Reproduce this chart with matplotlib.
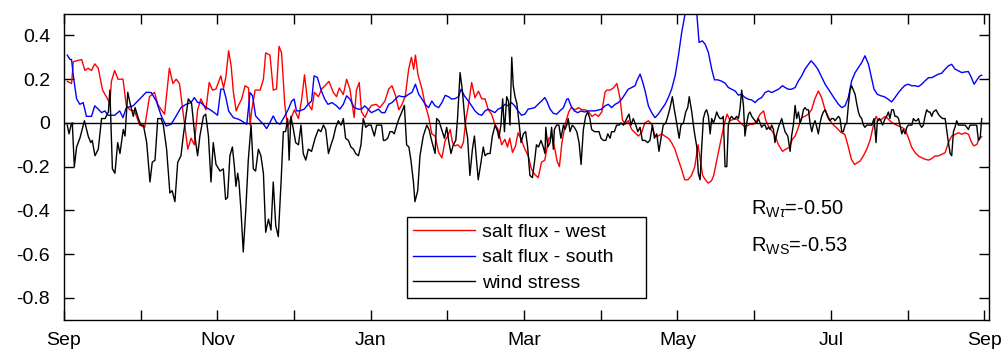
import matplotlib.pyplot as plt
from matplotlib.lines import Line2D
import numpy as np

plt.rcParams['font.family'] = ['Liberation Sans', 'DejaVu Sans']
plt.rcParams['mathtext.fontset'] = 'custom'
plt.rcParams['mathtext.rm'] = 'Liberation Sans'
plt.rcParams['mathtext.it'] = 'Liberation Sans:italic'
plt.rcParams['axes.unicode_minus'] = False

# days counted from 1 Sep
west_days = [1.3, 3.0, 3.7, 7.0, 8.3, 9.6, 10.9, 12.2, 13.6, 15.3, 16.8, 18.2, 18.8, 20.1, 21.4, 23.4, 24.7, 26.1,
             28.0, 30.0, 32.0, 33.9, 35.9, 37.2, 38.6, 39.9, 41.8, 43.2, 44.5, 45.8, 47.1, 49.1, 50.4, 51.7, 53.0,
             54.3, 56.3, 57.6, 58.9, 60.3, 62.2, 63.3, 64.2, 65.3, 66.3, 67.2, 68.3, 69.2, 70.5, 71.8, 73.2, 73.8,
             74.5, 75.8, 77.8, 79.1, 80.0, 81.7, 83.0, 84.3, 85.3, 86.3, 87.6, 88.7, 90.0, 91.4, 93.0, 94.3, 95.4,
             96.7, 98.3, 99.3, 100.9, 102.2, 103.5, 105.1, 106.8, 108.1, 109.2, 110.8, 112.1, 113.4, 115.1, 116.0,
             117.1, 118.0, 119.4, 120.7, 122.0, 123.8, 125.3, 127.3, 128.8, 130.1, 131.5, 132.8, 134.1, 135.4,
             136.7, 137.8, 138.7, 139.4, 140.4, 142.0, 143.3, 144.6, 145.9, 147.2, 148.6, 149.9, 151.2, 152.2,
             153.2, 154.1, 155.1, 156.2, 157.5, 158.4, 159.4, 160.4, 161.7, 163.0, 164.4, 165.7, 167.0, 168.3,
             169.6, 170.9, 172.2, 173.6, 174.9, 175.9, 176.8, 177.9, 179.1, 180.1, 181.5, 182.8, 184.1, 185.4,
             186.7, 188.1, 189.4, 190.7, 192.3, 193.6, 194.7, 195.6, 196.5, 197.5, 198.9, 200.2, 201.2, 202.8,
             204.1, 205.4, 206.8, 208.1, 209.4, 210.7, 212.0, 213.3, 214.6, 215.3, 216.6, 217.9, 219.3, 220.6,
             221.5, 222.5, 223.8, 225.2, 226.5, 227.8, 229.1, 230.4, 231.8, 233.1, 234.4, 235.7, 237.0, 238.3,
             239.7, 241.0, 242.3, 243.6, 244.9, 246.2, 247.5, 248.9, 250.2, 251.5, 253.3, 254.4, 255.5, 256.8,
             257.7, 259.0, 260.3, 261.7, 263.0, 264.3, 265.6, 266.9, 268.2, 269.6, 270.9, 272.2, 273.5, 274.8,
             276.1, 277.5, 278.4, 279.4, 280.8, 282.1, 283.4, 285.0, 286.3, 287.6, 288.9, 290.0, 291.3, 292.6,
             293.9, 295.2, 296.5, 297.8, 299.2, 300.5, 301.8, 303.1, 304.4, 305.7, 307.1, 308.4, 309.7, 311.0,
             312.3, 313.6, 315.8, 317.1, 318.4, 319.7, 321.0, 322.1, 323.0, 324.3, 325.7, 327.0, 328.3, 329.6,
             331.0, 332.3, 333.6, 334.9, 336.3, 337.6, 338.9, 340.2, 341.5, 342.9, 344.2, 345.5, 346.8, 348.2,
             349.5, 350.8, 352.1, 353.5, 354.8, 356.1, 357.4, 358.8, 359.7, 360.8, 362.1, 363.1, 364.0]
west_vals = [0.19, 0.18, 0.28, 0.29, 0.24, 0.25, 0.24, 0.27, 0.25, 0.15, 0.12, 0.09, 0.19, 0.24, 0.20, 0.20, 0.08, 0.06,
             0.055, -0.01, -0.02, 0.12, 0.14, 0.085, 0.06, 0.04, 0.25, 0.18, 0.20, 0.18, 0.06, -0.12, -0.07, -0.10, 0.06,
             0.11, 0.06, 0.185, 0.15, 0.155, 0.215, 0.16, 0.21, 0.33, 0.26, 0.14, 0.055, 0.08, 0.11, 0.17, 0.16, -0.01,
             0.06, 0.15, 0.15, 0.20, 0.32, 0.31, 0.15, 0.155, 0.35, 0.32, 0.08, -0.015, 0.02, 0.06, 0.02, 0.11, 0.22,
             0.09, 0.06, 0.14, 0.12, 0.155, 0.17, 0.19, 0.14, 0.12, 0.16, 0.13, 0.20, 0.155, 0.025, 0.15,
             0.185, 0.05, 0.025, 0.06, 0.08, 0.085, 0.07, 0.10, 0.155, 0.17, 0.125, 0.06, 0.085, 0.125,
             0.245, 0.30, 0.245, 0.31, 0.22, 0.155, 0.08, 0.03, -0.05, -0.06, -0.135, -0.16, -0.08, -0.06,
             -0.03, -0.09, -0.105, -0.10, -0.115, -0.09, 0.015, 0.08, 0.185, 0.115, 0.145, 0.11, 0.11, 0.06,
             0.04, -0.006, -0.03, -0.10, -0.075, -0.11, -0.07, -0.135, -0.105, -0.045, -0.08, -0.12, -0.15, -0.21,
             -0.235, -0.25, -0.18, -0.17, -0.07, -0.06, -0.12, -0.175, -0.20, -0.09, 0.0, 0.05, 0.07, 0.06,
             0.07, 0.06, 0.06, 0.05, 0.03, 0.04, 0.03, 0.05, 0.14, 0.15, 0.15, 0.16, 0.18, 0.11,
             0.015, -0.006, 0.01, -0.03, -0.045, -0.06, -0.045, 0.0, 0.01, -0.006, -0.06, -0.06, -0.05, -0.06,
             -0.07, -0.09, -0.12, -0.166, -0.21, -0.26, -0.26, -0.24, -0.20, -0.10, -0.24, -0.26, -0.275, -0.265,
             -0.24, -0.166, -0.09, -0.014, 0.04, 0.01, 0.017, 0.017, 0.002, -0.014, -0.014, -0.006, -0.006, 0.01,
             0.04, 0.055, 0.01, -0.014, -0.037, -0.06, -0.10, -0.13, -0.12, -0.113, -0.075, -0.06, -0.02, 0.025,
             0.03, 0.04, 0.06, 0.109, 0.146, 0.116, 0.063, 0.03, 0.0, -0.014, -0.03, -0.045, -0.052, -0.105,
             -0.166, -0.19, -0.174, -0.15, -0.12, -0.08, -0.014, 0.03, 0.01, 0.017, 0.03, 0.017, 0.002, -0.006,
             -0.014, -0.02, -0.03, -0.067, -0.113, -0.136, -0.151, -0.159, -0.166, -0.17, -0.163, -0.151, -0.151, -0.143,
             -0.136, -0.09, -0.06, -0.052, -0.045, -0.052, -0.045, -0.052, -0.082, -0.105, -0.098, -0.067, -0.063]

south_days = [1.3, 2.4, 3.0, 3.7, 5.0, 6.3, 7.6, 8.9, 10.9, 12.2, 13.6, 14.9, 16.2, 17.5, 20.1, 22.1, 23.4, 24.7,
              27.4, 30.0, 32.6, 34.6, 36.6, 38.6, 40.5, 42.5, 44.5, 46.4, 48.4, 50.4, 51.7, 53.0, 54.3, 56.3, 57.6,
              59.6, 60.9, 62.2, 63.3, 64.2, 65.3, 67.2, 69.2, 70.5, 72.5, 73.8, 74.8, 76.0, 77.8, 79.1, 80.4, 81.7,
              83.0, 84.3, 85.7, 87.6, 89.0, 90.3, 91.3, 92.2, 93.5, 95.3, 96.8, 98.2, 99.2, 100.5, 102.1, 103.4,
              104.7, 106.3, 108.1, 109.4, 110.8, 112.1, 113.4, 115.1, 116.7, 118.0, 119.3, 120.6, 121.9, 123.4,
              124.7, 126.0, 127.3, 128.8, 130.1, 131.5, 132.8, 134.1, 135.4, 136.7, 138.0, 139.4, 140.7, 142.0,
              143.3, 144.6, 145.9, 147.2, 148.6, 149.9, 151.2, 152.5, 153.8, 155.1, 156.5, 157.5, 158.8, 160.4,
              161.7, 163.0, 164.4, 165.7, 167.0, 168.3, 169.6, 170.9, 172.2, 173.6, 174.9, 176.2, 177.5, 178.8,
              180.1, 181.5, 182.8, 184.1, 185.4, 186.7, 188.0, 189.4, 190.7, 191.5, 192.8, 194.1, 195.4, 196.7,
              198.1, 199.4, 200.0, 201.1, 202.4, 203.8, 205.1, 206.4, 208.0, 210.6, 213.3, 214.6, 215.9, 217.2,
              218.6, 219.9, 221.2, 222.5, 223.8, 225.2, 226.5, 227.2, 228.5, 229.4, 230.5, 231.8, 233.1, 234.4,
              235.7, 237.1, 238.4, 239.7, 241.0, 242.4, 243.7, 245.0, 246.3, 247.6, 249.0, 250.3, 251.0, 251.9,
              253.2, 254.3, 255.6, 256.9, 258.0, 259.3, 260.6, 262.2, 263.5, 264.8, 266.2, 267.5, 268.8, 270.1,
              271.5, 272.8, 274.1, 275.4, 276.7, 278.1, 279.4, 280.7, 282.0, 283.4, 285.0, 286.0, 287.3, 288.6,
              290.0, 291.3, 292.6, 293.9, 295.3, 296.3, 297.6, 299.0, 300.3, 301.9, 303.2, 304.5, 305.8, 307.2,
              308.5, 309.8, 311.1, 312.4, 313.8, 315.1, 316.4, 317.7, 319.1, 320.4, 321.3, 322.6, 324.0, 325.3,
              326.6, 328.3, 329.6, 331.0, 332.3, 333.6, 334.9, 336.2, 337.6, 338.9, 340.2, 341.5, 342.9, 344.2,
              345.5, 346.8, 348.1, 349.5, 350.8, 352.1, 353.4, 354.8, 356.1, 357.4, 358.7, 359.6, 361.0, 362.3,
              363.3, 364.0]
south_vals = [0.31, 0.29, 0.29, 0.215, 0.11, 0.085, 0.093, 0.03, 0.03, 0.078, 0.063, 0.047, 0.055, 0.035, 0.035, 0.055,
              0.024, 0.07, 0.078, 0.109, 0.14, 0.139, 0.10, 0.032, -0.014, -0.006, 0.032, 0.07, 0.085, 0.093, 0.116,
              0.093, 0.093, 0.07, 0.063, 0.047, 0.035, 0.154, 0.155, 0.116, 0.055, 0.024, 0.017, 0.009, -0.006, 0.139,
              0.124, 0.032, 0.009, -0.006, -0.026, 0.002, 0.032, 0.002, -0.006, 0.032, 0.063, 0.10, 0.109, 0.055,
              0.055, 0.063, 0.085, 0.10, 0.215, 0.208, 0.146, 0.109, 0.085, 0.093, 0.078, 0.063, 0.085, 0.124,
              0.109, 0.07, 0.063, 0.063, 0.078, 0.063, 0.047, 0.055, 0.063, 0.047, 0.047, 0.085, 0.093, 0.109,
              0.124, 0.12, 0.12, 0.131, 0.139, 0.177, 0.131, 0.109, 0.085, 0.07, 0.10, 0.078, 0.07, 0.093, 0.126,
              0.12, 0.109, 0.111, 0.12, 0.154, 0.124, 0.10, 0.078, 0.055, 0.04, 0.035, 0.055, 0.063, 0.055, 0.047,
              0.063, 0.07, 0.085, 0.078, 0.093, 0.078, 0.055, 0.035, 0.04, 0.063, 0.066, 0.07, 0.085, 0.10, 0.116,
              0.10, 0.063, 0.044, 0.04, 0.055, 0.07, 0.108, 0.111, 0.078, 0.055, 0.047, 0.055, 0.05, 0.055, 0.055,
              0.063, 0.078, 0.085, 0.07, 0.085, 0.093, 0.108, 0.131, 0.154, 0.162, 0.17, 0.192, 0.223, 0.192,
              0.146, 0.078, 0.047, 0.024, 0.04, 0.063, 0.085, 0.116, 0.154, 0.215, 0.307, 0.413, 0.497, 0.58, 0.60,
              0.57, 0.50, 0.368, 0.375, 0.36, 0.322, 0.246, 0.197, 0.197, 0.192, 0.182, 0.162, 0.154, 0.146, 0.127,
              0.131, 0.116, 0.108, 0.105, 0.093, 0.108, 0.116, 0.139, 0.146, 0.139, 0.146, 0.154, 0.17, 0.162,
              0.154, 0.154, 0.162, 0.192, 0.215, 0.246, 0.268, 0.284, 0.268, 0.246, 0.215, 0.177, 0.154, 0.131,
              0.108, 0.085, 0.07, 0.078, 0.116, 0.192, 0.23, 0.253, 0.276, 0.307, 0.268, 0.20, 0.154, 0.131, 0.124,
              0.12, 0.111, 0.096, 0.116, 0.139, 0.157, 0.172, 0.177, 0.17, 0.17, 0.166, 0.177, 0.192, 0.207, 0.207,
              0.215, 0.223, 0.227, 0.246, 0.261, 0.268, 0.246, 0.238, 0.23, 0.233, 0.235, 0.215, 0.177, 0.20,
              0.215, 0.218]

wind_days = [1.3, 2.0, 2.8, 3.3, 4.1, 5.0, 6.3, 8.1, 9.6, 10.6, 11.2, 12.3, 13.6, 14.9, 16.3, 17.6, 18.2, 19.2, 20.2,
             21.3, 22.2, 23.5, 24.2, 25.3, 26.2, 27.5, 28.2, 29.5, 30.5, 31.5, 32.8, 34.1, 35.0, 36.1, 37.2, 38.5,
             39.4, 40.7, 42.0, 42.9, 44.0, 45.1, 46.4, 47.3, 49.3, 50.6, 51.9, 53.0, 53.9, 55.3, 56.2, 57.3, 58.3,
             59.2, 60.3, 61.9, 63.2, 64.1, 64.9, 65.8, 66.8, 67.6, 68.2, 68.9, 69.4, 70.2, 71.1, 72.1, 73.1, 74.2,
             75.1, 76.0, 77.1, 78.1, 79.1, 80.0, 81.1, 82.1, 83.0, 84.0, 85.0, 86.1, 87.0, 87.9, 88.7, 89.3, 90.0,
             91.0, 91.9, 93.0, 94.0, 94.9, 95.9, 96.9, 98.2, 99.6, 100.9, 101.9, 102.9, 103.8, 104.9, 105.9, 106.8,
             107.8, 108.8, 109.9, 110.8, 111.7, 112.8, 113.8, 114.8, 115.7, 116.8, 117.8, 118.7, 119.7, 120.7,
             121.8, 123.1, 124.0, 125.0, 126.0, 126.7, 127.3, 128.4, 129.3, 130.2, 131.0, 132.0, 132.9, 134.0,
             135.0, 135.9, 136.8, 137.6, 138.6, 139.2, 140.3, 141.2, 142.5, 143.9, 144.8, 145.8, 147.2, 147.8,
             148.7, 149.8, 150.9, 151.8, 152.7, 153.5, 154.4, 155.4, 156.1, 157.1, 158.0, 159.1, 160.1, 161.0,
             162.0, 162.8, 163.7, 164.3, 165.4, 166.3, 167.0, 168.0, 169.0, 169.9, 171.0, 172.0, 172.5, 173.3,
             174.0, 174.7, 175.6, 176.3, 176.9, 177.6, 178.2, 178.9, 179.6, 180.5, 181.3, 182.2, 183.1, 183.9,
             184.8, 185.8, 186.6, 187.4, 188.2, 189.2, 190.1, 190.8, 191.1, 191.9, 192.8, 193.4, 194.1, 194.5,
             195.4, 196.3, 197.1, 198.1, 198.7, 199.4, 200.0, 200.7, 201.6, 202.4, 203.4, 204.3, 205.1, 206.0,
             206.9, 207.7, 208.6, 209.3, 210.4, 211.3, 212.2, 213.0, 214.0, 214.9, 215.7, 216.6, 217.2, 218.3,
             219.2, 220.2, 220.9, 221.9, 222.8, 223.6, 224.1, 224.9, 225.8, 226.8, 227.6, 228.5, 229.4, 230.5,
             231.5, 232.4, 233.4, 234.2, 235.1, 236.0, 236.8, 237.7, 238.7, 239.5, 240.4, 241.3, 242.1, 243.0,
             244.0, 244.7, 245.7, 246.6, 247.4, 248.0, 249.0, 250.0, 251.0, 251.6, 252.3, 252.9, 253.6, 254.3,
             254.9, 255.6, 256.3, 256.9, 257.6, 258.2, 258.9, 259.6, 260.2, 260.9, 261.5, 262.2, 262.9, 263.5,
             264.2, 264.8, 265.5, 266.2, 266.8, 267.5, 268.1, 268.8, 269.5, 270.1, 270.8, 271.5, 272.1, 272.8,
             273.4, 274.1, 274.8, 275.4, 276.1, 276.7, 277.4, 278.1, 278.7, 279.4, 280.1, 280.7, 281.4, 282.0,
             282.7, 283.4, 284.0, 284.7, 285.3, 286.0, 287.1, 288.0, 288.6, 289.3, 290.0, 290.6, 291.3, 292.0,
             292.6, 293.3, 293.9, 294.6, 295.3, 295.9, 296.6, 297.2, 297.9, 298.6, 299.2, 299.9, 300.5, 301.2,
             301.9, 302.5, 303.2, 303.8, 304.5, 305.2, 305.8, 306.5, 307.2, 307.8, 308.5, 309.1, 309.8, 310.5,
             311.1, 311.8, 312.4, 313.1, 313.8, 314.4, 315.1, 315.7, 316.4, 317.1, 317.7, 318.4, 319.1, 319.7,
             320.4, 321.3, 322.1, 322.6, 323.4, 324.0, 324.7, 325.7, 326.3, 327.0, 327.6, 328.3, 329.0, 329.6,
             330.3, 331.0, 331.6, 332.3, 332.9, 333.6, 334.3, 334.9, 335.6, 336.3, 336.9, 337.6, 338.2, 338.9,
             339.6, 340.2, 340.9, 341.5, 342.2, 342.9, 343.5, 344.2, 344.8, 345.9, 346.8, 347.5, 348.5, 349.5,
             350.1, 350.8, 351.5, 352.1, 352.8, 353.4, 354.1, 354.8, 355.4, 356.1, 356.8, 357.4, 358.1, 358.7,
             359.4, 360.1, 360.7, 361.4, 362.0, 362.7, 363.4, 364.0]
wind_vals = [-0.01, -0.05, -0.01, 0.0, -0.20, -0.11, -0.07, 0.01, -0.06, -0.09, -0.08, -0.15, -0.12, 0.02, 0.02, 0.05,
             0.15, -0.21, -0.23, -0.09, -0.14, -0.03, -0.06, 0.14, 0.09, 0.03, 0.07, 0.02, -0.01, -0.01, -0.09, -0.27,
             -0.18, -0.17, 0.02, 0.02, -0.01, -0.12, -0.32, -0.31, -0.36, -0.18, -0.15, -0.06, 0.11, 0.09, -0.06,
             -0.15, -0.06, 0.03, 0.04, -0.06, -0.27, -0.09, -0.19, -0.22, -0.21, -0.35, -0.34, -0.15, -0.11, -0.20,
             -0.29, -0.23, -0.27, -0.40, -0.59, -0.40, -0.17, -0.01, -0.21, -0.22, -0.12, -0.15, -0.23, -0.50, -0.44,
             -0.49, -0.27, -0.47, -0.52, -0.27, -0.04, -0.04, 0.02, -0.17, 0.03, -0.03, -0.09, -0.10, -0.01, -0.14,
             -0.17, -0.12, -0.13, -0.07, -0.03, -0.04, -0.01, -0.03, -0.14, -0.10, -0.07, -0.02, 0.01, -0.01, 0.02,
             -0.07, -0.08, -0.11, -0.12, -0.14, -0.15, -0.10, 0.02, -0.02, -0.01, -0.01, -0.06, -0.01, -0.01, -0.01,
             -0.08, -0.08, -0.07, -0.04, -0.04, -0.05, -0.01, 0.02, 0.05, 0.08, -0.10, -0.11, -0.17, -0.27, -0.36,
             -0.31, -0.15, -0.06, -0.01, -0.03, -0.08, -0.14, 0.02, 0.01, -0.03, -0.07, -0.02, -0.09, -0.14, -0.10,
             -0.08, 0.02, 0.23, 0.15, 0.0, -0.07, -0.24, -0.12, -0.06, -0.18, -0.26, -0.18, -0.11, -0.15, -0.14,
             -0.14, -0.06, -0.01, -0.04, -0.07, -0.01, 0.11, -0.04, 0.12, 0.10, -0.01, 0.30, 0.17, 0.12, 0.09, 0.0,
             -0.09, -0.05, -0.04, -0.11, -0.24, -0.25, -0.18, -0.10, -0.11, -0.08, -0.11, -0.14, -0.02, -0.11,
             -0.09, -0.02, -0.12, -0.03, -0.01, -0.01, -0.07, -0.01, -0.03, -0.01, 0.02, -0.04, -0.01, -0.02, -0.04,
             -0.09, -0.19, -0.03, 0.03, 0.05, 0.02, -0.03, -0.04, -0.04, -0.04, -0.07, -0.08, -0.08, -0.05, -0.07,
             -0.04, -0.04, -0.01, -0.01, 0.0, -0.01, 0.01, 0.03, 0.04, -0.01, 0.02, -0.01, -0.04, -0.02, -0.08,
             -0.08, -0.09, -0.08, -0.01, -0.07, -0.05, -0.13, -0.07, -0.01, 0.0, 0.03, 0.07, 0.12, 0.06, 0.0,
             -0.07, -0.01, 0.0, 0.05, 0.07, 0.12, 0.05, -0.04, -0.11, -0.23, -0.26, -0.12, 0.02, 0.05, 0.06, 0.03,
             -0.05, 0.02, 0.0, 0.02, 0.05, 0.03, 0.02, 0.02, 0.03, -0.20, -0.20, -0.01, 0.02, 0.03, 0.02, 0.02,
             0.03, 0.02, 0.06, 0.15, 0.08, -0.06, 0.0, 0.04, 0.05, 0.03, 0.02, 0.01, 0.0, 0.02, 0.0, -0.02, -0.01,
             -0.01, -0.03, -0.02, -0.03, -0.01, -0.03, -0.09, -0.05, -0.02, 0.0, 0.02, -0.01, -0.04, -0.06, -0.13,
             -0.06, -0.01, 0.08, 0.02, 0.05, 0.0, 0.02, 0.06, 0.07, 0.06, 0.06, 0.0, -0.04, -0.01, 0.01, -0.02,
             -0.05, 0.0, 0.03, 0.05, 0.06, 0.04, 0.02, 0.01, 0.02, 0.02, 0.01, 0.02, 0.03, 0.02, -0.04, -0.04,
             -0.01, 0.0, 0.08, 0.15, 0.17, 0.15, 0.13, 0.09, 0.05, 0.03, 0.02, -0.01, -0.02, -0.01, -0.01, -0.01,
             -0.01, 0.02, -0.09, 0.01, 0.02, 0.01, -0.01, 0.02, 0.03, 0.05, 0.02, 0.06, 0.06, 0.03, 0.03, 0.02,
             -0.01, -0.05, -0.03, -0.05, -0.02, -0.01, -0.01, -0.01, 0.02, 0.01, 0.01, 0.02, -0.01, -0.02, -0.01,
             0.03, 0.06, 0.05, 0.05, 0.03, 0.05, 0.06, 0.04, 0.03, 0.02, 0.02, -0.03, -0.09, -0.14, -0.15, -0.04,
             -0.02, 0.01, -0.01, -0.01, -0.01, -0.01, -0.01, -0.02, -0.03, -0.01, -0.01, -0.01, -0.01, -0.01,
             -0.08, -0.07, 0.02]

month_labels = ['Sep', '', 'Nov', '', 'Jan', '', 'Mar', '', 'May', '', 'Jul', '', 'Sep']
y_ticks = [-0.8, -0.6, -0.4, -0.2, 0, 0.2, 0.4]
y_labels = ['-0.8', '-0.6', '-0.4', '-0.2', '0', '0.2', '0.4']
series_names = ['salt flux - west', 'salt flux - south', 'wind stress']
r_texts = [r'R$_{\mathrm{W}\tau}$=-0.50', r'R$_{\mathrm{WS}}$=-0.53']

fig = plt.figure(figsize=(10.03, 3.52), dpi=100)
ax = fig.add_axes([0.0638, 0.0915, 0.9225, 0.870])

ax.plot(west_days, west_vals, color='#ff0000', lw=1.0)
ax.plot(south_days, south_vals, color='#0000ff', lw=1.0)
ax.plot(wind_days, wind_vals, color='black', lw=1.0)
ax.axhline(0, color='black', lw=1.0)

ax.set_xlim(0, 367)
ax.set_ylim(-0.9, 0.5)

# ticks evenly spaced, one per month
ax.set_xticks(np.arange(13) * 365 / 12)
ax.set_xticklabels(month_labels)
ax.set_yticks(y_ticks)
ax.set_yticklabels(y_labels)
ax.tick_params(direction='in', length=7, width=1, top=True, right=True, labelsize=14)
ax.tick_params(axis='x', pad=9)
ax.tick_params(axis='y', pad=10)
for s in ax.spines.values():
    s.set_linewidth(1.0)

handles = [Line2D([], [], color=c, lw=1.0) for c in ['#ff0000', '#0000ff', 'black']]
leg = ax.legend(handles, series_names, loc='upper left', mode='expand',
                bbox_to_anchor=(0.3704, 0.0669, 0.2586, 0.2677), borderaxespad=0,
                fontsize=14, handlelength=3.2, handletextpad=0.33, borderpad=0.32,
                labelspacing=0.39, fancybox=False, framealpha=1, edgecolor='black')
leg.get_frame().set_linewidth(1.0)

ax.text(0.743, 0.342, r_texts[0], transform=ax.transAxes, fontsize=14.5, va='baseline')
ax.text(0.743, 0.222, r_texts[1], transform=ax.transAxes, fontsize=14.5, va='baseline')

fig.savefig('out.png', dpi=100)
